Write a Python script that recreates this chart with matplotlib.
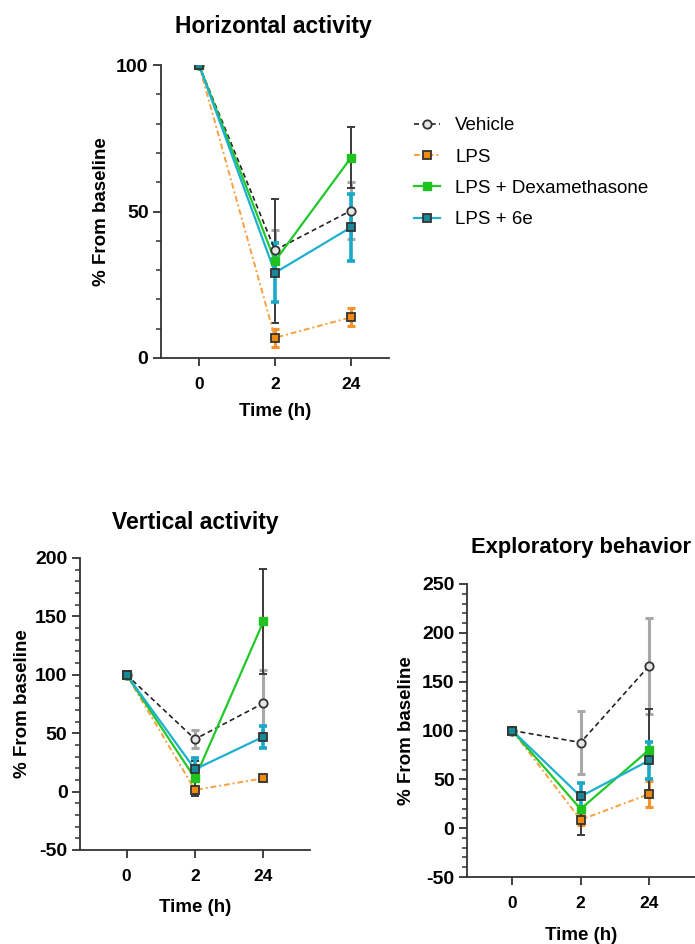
import matplotlib
matplotlib.use("Agg")
import matplotlib.pyplot as plt
from matplotlib.lines import Line2D
from matplotlib.ticker import MultipleLocator, FixedLocator

plt.rcParams['font.family'] = ['Liberation Sans', 'DejaVu Sans']

time_labels = ['0', '2', '24']
series_names = ['Vehicle', 'LPS', 'LPS + Dexamethasone', 'LPS + 6e']

# Horizontal activity
veh_h = [100, 36.8, 50.3]
veh_h_err = [0, 7.0, 9.7]
lps_h = [100, 6.9, 13.9]
lps_h_err = [0, 3.0, 3.0]
dex_h = [100, 33.1, 68.4]
dex_h_err = [0, 21.2, 10.5]
e6_h = [100, 29.1, 44.6]
e6_h_err = [0, 10.0, 11.5]

# Vertical activity
veh_v = [100, 44.9, 75.7]
veh_v_err = [0, 7.5, 28.0]
lps_v = [100, 1.4, 11.4]
lps_v_err = [0, 3.0, 2.0]
dex_v = [100, 11.4, 145.7]
dex_v_err = [0, 15.0, 45.0]
e6_v = [100, 19.1, 47.0]
e6_v_err = [0, 10.0, 9.5]

# Exploratory behavior
veh_e = [100, 87.7, 166.2]
veh_e_err = [0, 32.0, 49.0]
lps_e = [100, 8.6, 34.9]
lps_e_err = [0, 5.0, 13.0]
dex_e = [100, 19.6, 80.3]
dex_e_err = [0, 27.0, 42.0]
e6_e = [100, 32.5, 69.3]
e6_e_err = [0, 14.0, 18.5]

W, H = 695, 944
fig = plt.figure(figsize=(W / 100, H / 100), dpi=100)

AX_COL = '#333333'

styles = {
    'Vehicle': dict(color='#222222', ls=(0, (3, 2)), lw=1.2, marker='o', mfc='#e6e6e6',
                    mec='#333333', ms=6, mew=1.3, ecolor='#a8a8a8', elw=2.2),
    'LPS': dict(color='#f9a040', ls=(0, (3, 1.5, 1, 1.5)), lw=1.4, marker='s', mfc='#f28a10',
                mec='#333333', ms=6, mew=1.3, ecolor='#f7922a', elw=2.2),
    'LPS + Dexamethasone': dict(color='#22c82a', ls='-', lw=1.6, marker='s', mfc='#1fc21f',
                                mec='#1fc21f', ms=5.5, mew=1.0, ecolor='#3a3a3a', elw=1.4),
    'LPS + 6e': dict(color='#1eb0cf', ls='-', lw=1.6, marker='s', mfc='#15899a',
                     mec='#333333', ms=6, mew=1.3, ecolor='#1aa8c8', elw=2.6),
}


def px_rect(left, top, right, bottom):
    return [left / W, 1 - bottom / H, (right - left) / W, (bottom - top) / H]


def draw_panel(rect, data, ylim, yticks, xlim, title, title_xy, title_fs, ylabel_x, xlabel_y):
    ax = fig.add_axes(rect)
    x = list(range(len(time_labels)))
    order = ['Vehicle', 'LPS', 'LPS + Dexamethasone', 'LPS + 6e']
    for i, name in enumerate(order):
        vals, errs = data[name]
        st = styles[name]
        ax.errorbar(x, vals, yerr=errs, fmt='none', ecolor=st['ecolor'],
                    elinewidth=st['elw'], capsize=3, capthick=st['elw'], zorder=2 + i * 0.1)
    for i, name in enumerate(order):
        vals, errs = data[name]
        st = styles[name]
        ax.plot(x, vals, color=st['color'], ls=st['ls'], lw=st['lw'], zorder=3 + i * 0.1)
    for i, name in enumerate(order):
        vals, errs = data[name]
        st = styles[name]
        ax.plot(x, vals, ls='none', marker=st['marker'], mfc=st['mfc'], mec=st['mec'],
                ms=st['ms'], mew=st['mew'], zorder=4 + i * 0.1)
    ax.set_xlim(*xlim)
    ax.set_ylim(*ylim)
    ax.set_xticks(x)
    ax.set_xticklabels(time_labels, fontsize=12.5, fontweight='bold')
    ax.yaxis.set_major_locator(FixedLocator(yticks))
    ax.yaxis.set_minor_locator(MultipleLocator(10))
    ax.set_yticklabels([str(t) for t in yticks], fontsize=14, fontweight='bold')
    for s in ['top', 'right']:
        ax.spines[s].set_visible(False)
    for s in ['left', 'bottom']:
        ax.spines[s].set_linewidth(1.3)
        ax.spines[s].set_color(AX_COL)
    ax.tick_params(axis='both', which='major', direction='out', length=6, width=1.3,
                   color=AX_COL, pad=3)
    ax.tick_params(axis='y', which='minor', direction='out', length=3.5, width=1.1, color=AX_COL)
    ax.tick_params(axis='x', which='major', pad=8)
    fig.text(title_xy[0] / W, 1 - title_xy[1] / H, title, ha='center', va='center',
             fontsize=title_fs, fontweight='bold')
    bb = ax.get_position()
    fig.text(ylabel_x / W, bb.y0 + bb.height / 2, '% From baseline', rotation=90,
             ha='center', va='center', fontsize=13.5, fontweight='bold')
    xc = ax.transAxes.inverted().transform(ax.transData.transform((1, 0)))[0]
    fig.text(bb.x0 + xc * bb.width, 1 - xlabel_y / H, 'Time (h)', ha='center', va='center',
             fontsize=13.5, fontweight='bold')
    return ax


data_h = {'Vehicle': (veh_h, veh_h_err), 'LPS': (lps_h, lps_h_err),
          'LPS + Dexamethasone': (dex_h, dex_h_err), 'LPS + 6e': (e6_h, e6_h_err)}
data_v = {'Vehicle': (veh_v, veh_v_err), 'LPS': (lps_v, lps_v_err),
          'LPS + Dexamethasone': (dex_v, dex_v_err), 'LPS + 6e': (e6_v, e6_v_err)}
data_e = {'Vehicle': (veh_e, veh_e_err), 'LPS': (lps_e, lps_e_err),
          'LPS + Dexamethasone': (dex_e, dex_e_err), 'LPS + 6e': (e6_e, e6_e_err)}

draw_panel(px_rect(161, 65, 389, 358), data_h, (0, 100), [0, 50, 100], (-0.5, 2.5),
           'Horizontal activity', (273, 27), 16.5, 102, 412)
draw_panel(px_rect(80, 558, 310, 850), data_v, (-50, 200), [-50, 0, 50, 100, 150, 200],
           (-0.68, 2.68), 'Vertical activity', (195, 522), 16.5, 23, 908)
draw_panel(px_rect(467, 584, 695, 877), data_e, (-50, 250), [-50, 0, 50, 100, 150, 200, 250],
           (-0.66, 2.67), 'Exploratory behavior', (581, 547), 15.8, 407, 935)

handles = []
for name in series_names:
    st = styles[name]
    handles.append(Line2D([0], [0], color=st['color'], ls=st['ls'], lw=st['lw'],
                          marker=st['marker'], mfc=st['mfc'], mec=st['mec'],
                          ms=st['ms'], mew=st['mew']))
fig.legend(handles, series_names, loc='upper left', bbox_to_anchor=(414 / W, 1 - 117 / H),
           frameon=False, fontsize=13.5, handlelength=1.4, handletextpad=0.8,
           labelspacing=0.76, borderaxespad=0, borderpad=0)

fig.savefig('out.png', dpi=100)
